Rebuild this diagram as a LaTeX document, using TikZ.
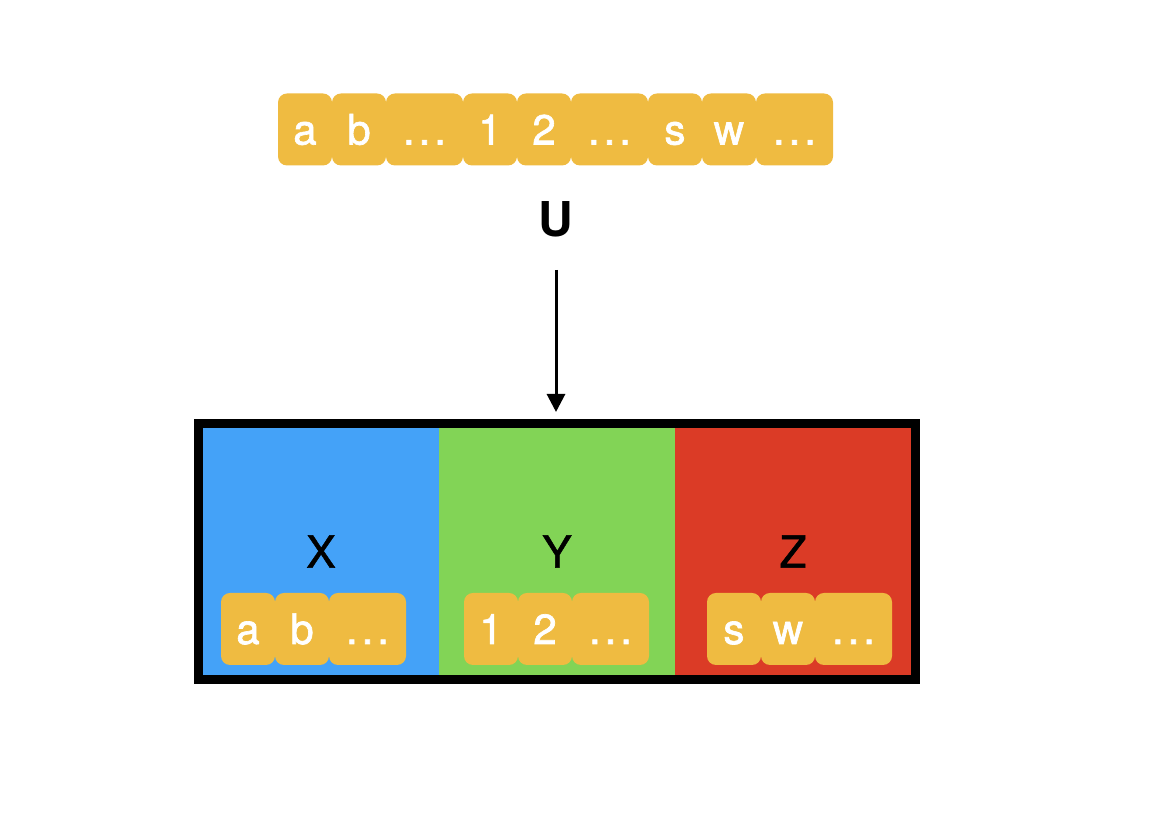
\documentclass[tikz,border=0pt]{standalone}
\usepackage{fontspec}
\setmainfont{TeX Gyre Heros}
\newfontfamily\tilefont[FakeBold=1.6]{TeX Gyre Heros}
\newfontfamily\secfont[FakeBold=1.2]{TeX Gyre Heros}
\usepackage{tikz}
\usetikzlibrary{positioning,arrows.meta}
\definecolor{tile_yellow}{HTML}{EFBB41}
\definecolor{sec_blue}{HTML}{44A2F8}
\definecolor{sec_green}{HTML}{82D456}
\definecolor{sec_red}{HTML}{DB3B26}
\newcommand{\tiledots}{.\kern4pt.\kern4pt.}
\tikzset{
tile/.style={rectangle, rounded corners=9pt, fill=tile_yellow, text=white, inner sep=0pt, outer sep=0pt, minimum width=54pt, minimum height=72pt, text height=30pt, text depth=0pt, font=\tilefont\fontsize{42}{42}\selectfont},
wide_tile/.style={tile, minimum width=77pt},
section/.style={rectangle, inner sep=0pt, outer sep=0pt, minimum width=236pt, minimum height=247pt, font=\secfont\fontsize{44}{44}\selectfont},
frame/.style={draw=black, line width=9pt},
flow/.style={line width=3pt, -{Triangle[length=18pt,width=18pt]}},
title/.style={font=\fontsize{48}{48}\selectfont\bfseries}
}

\begin{document}
\begin{tikzpicture}[x=1pt,y=1pt]
    \useasboundingbox (0,0) rectangle (1176,818);
    \node[tile] (top_a) at (305,688.5) {a};
    \node[tile] (top_b) [right=0 of top_a] {b};
    \node[wide_tile] (top_d1) [right=0 of top_b] {\tiledots};
    \node[tile] (top_1) [right=0 of top_d1] {1};
    \node[tile] (top_2) [right=0 of top_1] {2};
    \node[wide_tile] (top_d2) [right=0 of top_2] {\tiledots};
    \node[tile] (top_s) [right=0 of top_d2] {s};
    \node[tile] (top_w) [right=0 of top_s] {w};
    \node[wide_tile] (top_d3) [right=0 of top_w] {\tiledots};

    \node[title] (label_u) at (556,598.5) {U};
    \coordinate (arrow_top) at (556,548);
    \coordinate (arrow_tip) at (556,406);
    \draw[flow] (arrow_top) -- (arrow_tip);

    \node[section, fill=sec_blue] (sec_x) at (321,266.5) {X};
    \node[section, fill=sec_green] (sec_y) [right=0 of sec_x] {Y};
    \node[section, fill=sec_red] (sec_z) [right=0 of sec_y] {Z};
    \draw[frame] ([shift={(-4.5,4.5)}]sec_x.north west) rectangle ([shift={(4.5,-4.5)}]sec_z.south east);

    \node[tile] (x_a) at (248,189) {a};
    \node[tile] (x_b) [right=0 of x_a] {b};
    \node[wide_tile] (x_d) [right=0 of x_b] {\tiledots};
    \node[tile] (y_1) at (491,189) {1};
    \node[tile] (y_2) [right=0 of y_1] {2};
    \node[wide_tile] (y_d) [right=0 of y_2] {\tiledots};
    \node[tile] (z_s) at (734,189) {s};
    \node[tile] (z_w) [right=0 of z_s] {w};
    \node[wide_tile] (z_d) [right=0 of z_w] {\tiledots};
\end{tikzpicture}
\end{document}
